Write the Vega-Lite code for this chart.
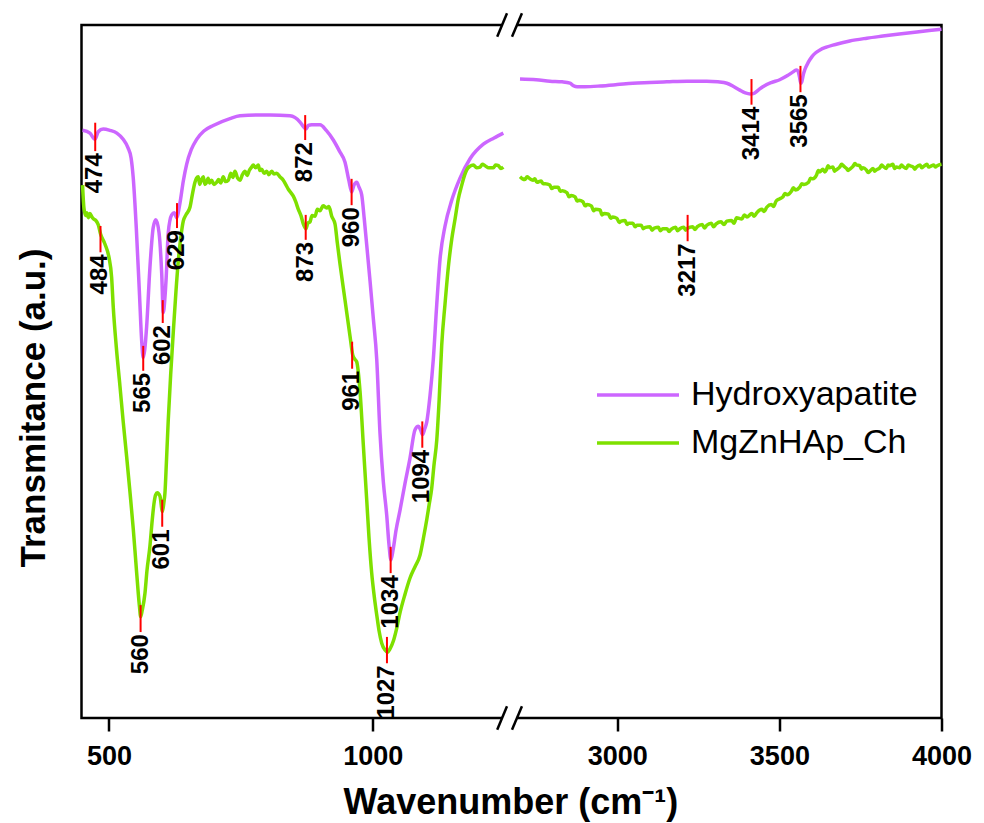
{
  "$schema": "https://vega.github.io/schema/vega-lite/v6.json",
  "width": 860,
  "height": 693,
  "autosize": {"type": "none"},
  "padding": {"left": 81.5, "top": 25, "right": 42.5, "bottom": 105},
  "background": "white",
  "config": {"view": {"stroke": "black", "strokeWidth": 2.5}, "font": "Liberation Sans"},
  "datasets": {
    "spec": [
      {"s":"Hydroxyapatite","p":"L","w":450,"t":84.8},{"s":"Hydroxyapatite","p":"L","w":464,"t":84.4},{"s":"Hydroxyapatite","p":"L","w":473.5,"t":83.5},{"s":"Hydroxyapatite","p":"L","w":479.7,"t":84.6},{"s":"Hydroxyapatite","p":"L","w":489,"t":85.0},{"s":"Hydroxyapatite","p":"L","w":502,"t":84.8},{"s":"Hydroxyapatite","p":"L","w":515,"t":84.4},{"s":"Hydroxyapatite","p":"L","w":527,"t":83.5},{"s":"Hydroxyapatite","p":"L","w":536,"t":82.3},{"s":"Hydroxyapatite","p":"L","w":542,"t":80.8},{"s":"Hydroxyapatite","p":"L","w":546,"t":78.0},{"s":"Hydroxyapatite","p":"L","w":552,"t":70.5},{"s":"Hydroxyapatite","p":"L","w":558,"t":61},{"s":"Hydroxyapatite","p":"L","w":562,"t":54.5},{"s":"Hydroxyapatite","p":"L","w":565,"t":52.0},{"s":"Hydroxyapatite","p":"L","w":568,"t":53.2},{"s":"Hydroxyapatite","p":"L","w":571.5,"t":56.5},{"s":"Hydroxyapatite","p":"L","w":577.7,"t":65},{"s":"Hydroxyapatite","p":"L","w":584,"t":70.8},{"s":"Hydroxyapatite","p":"L","w":589,"t":71.9},{"s":"Hydroxyapatite","p":"L","w":595,"t":70.0},{"s":"Hydroxyapatite","p":"L","w":600,"t":64.2},{"s":"Hydroxyapatite","p":"L","w":603,"t":58.5},{"s":"Hydroxyapatite","p":"L","w":606,"t":60.5},{"s":"Hydroxyapatite","p":"L","w":608.5,"t":63.5},{"s":"Hydroxyapatite","p":"L","w":612.4,"t":70},{"s":"Hydroxyapatite","p":"L","w":618.9,"t":72.6},{"s":"Hydroxyapatite","p":"L","w":623.8,"t":72.9},{"s":"Hydroxyapatite","p":"L","w":628.4,"t":72.2},{"s":"Hydroxyapatite","p":"L","w":634.6,"t":74.3},{"s":"Hydroxyapatite","p":"L","w":641,"t":77.5},{"s":"Hydroxyapatite","p":"L","w":647.3,"t":79.9},{"s":"Hydroxyapatite","p":"L","w":656,"t":82},{"s":"Hydroxyapatite","p":"L","w":666.3,"t":83.5},{"s":"Hydroxyapatite","p":"L","w":680,"t":84.7},{"s":"Hydroxyapatite","p":"L","w":697.8,"t":85.5},{"s":"Hydroxyapatite","p":"L","w":729.4,"t":86.5},{"s":"Hydroxyapatite","p":"L","w":748.4,"t":86.9},{"s":"Hydroxyapatite","p":"L","w":780,"t":87.0},{"s":"Hydroxyapatite","p":"L","w":805.3,"t":87.0},{"s":"Hydroxyapatite","p":"L","w":843.2,"t":86.9},{"s":"Hydroxyapatite","p":"L","w":862.2,"t":86.0},{"s":"Hydroxyapatite","p":"L","w":869,"t":85.3},{"s":"Hydroxyapatite","p":"L","w":873.5,"t":85.0},{"s":"Hydroxyapatite","p":"L","w":878,"t":85.5},{"s":"Hydroxyapatite","p":"L","w":884.3,"t":85.6},{"s":"Hydroxyapatite","p":"L","w":900.1,"t":85.6},{"s":"Hydroxyapatite","p":"L","w":912,"t":84.8},{"s":"Hydroxyapatite","p":"L","w":925.3,"t":83.4},{"s":"Hydroxyapatite","p":"L","w":937,"t":81.8},{"s":"Hydroxyapatite","p":"L","w":947.5,"t":80.2},{"s":"Hydroxyapatite","p":"L","w":955,"t":77.5},{"s":"Hydroxyapatite","p":"L","w":960.2,"t":75.9},{"s":"Hydroxyapatite","p":"L","w":964,"t":76.8},{"s":"Hydroxyapatite","p":"L","w":969.7,"t":77.3},{"s":"Hydroxyapatite","p":"L","w":974,"t":76.6},{"s":"Hydroxyapatite","p":"L","w":979.1,"t":75.5},{"s":"Hydroxyapatite","p":"L","w":984,"t":72},{"s":"Hydroxyapatite","p":"L","w":988.6,"t":68.3},{"s":"Hydroxyapatite","p":"L","w":995,"t":63},{"s":"Hydroxyapatite","p":"L","w":1001.1,"t":57.7},{"s":"Hydroxyapatite","p":"L","w":1007.6,"t":51.8},{"s":"Hydroxyapatite","p":"L","w":1013.8,"t":41.1},{"s":"Hydroxyapatite","p":"L","w":1020.1,"t":34.1},{"s":"Hydroxyapatite","p":"L","w":1026.5,"t":29.3},{"s":"Hydroxyapatite","p":"L","w":1030.9,"t":25.0},{"s":"Hydroxyapatite","p":"L","w":1034.5,"t":22.8},{"s":"Hydroxyapatite","p":"L","w":1038.5,"t":24.2},{"s":"Hydroxyapatite","p":"L","w":1044.2,"t":27.1},{"s":"Hydroxyapatite","p":"L","w":1051.8,"t":30.0},{"s":"Hydroxyapatite","p":"L","w":1061.3,"t":33.9},{"s":"Hydroxyapatite","p":"L","w":1070.7,"t":37.5},{"s":"Hydroxyapatite","p":"L","w":1080.2,"t":41.6},{"s":"Hydroxyapatite","p":"L","w":1086.5,"t":42.1},{"s":"Hydroxyapatite","p":"L","w":1090.6,"t":41.6},{"s":"Hydroxyapatite","p":"L","w":1094.5,"t":40.9},{"s":"Hydroxyapatite","p":"L","w":1098.5,"t":41.7},{"s":"Hydroxyapatite","p":"L","w":1102.4,"t":42.7},{"s":"Hydroxyapatite","p":"L","w":1108.6,"t":46.5},{"s":"Hydroxyapatite","p":"L","w":1114.9,"t":51.8},{"s":"Hydroxyapatite","p":"L","w":1121.4,"t":59.7},{"s":"Hydroxyapatite","p":"L","w":1127.6,"t":66.2},{"s":"Hydroxyapatite","p":"L","w":1137.1,"t":71.0},{"s":"Hydroxyapatite","p":"L","w":1149.8,"t":74.7},{"s":"Hydroxyapatite","p":"L","w":1165.5,"t":77.9},{"s":"Hydroxyapatite","p":"L","w":1184.5,"t":80.7},{"s":"Hydroxyapatite","p":"L","w":1209.7,"t":82.8},{"s":"Hydroxyapatite","p":"L","w":1230,"t":83.7},{"s":"Hydroxyapatite","p":"L","w":1247.6,"t":84.4},
      {"s":"Hydroxyapatite","p":"R","w":2700,"t":92.2},{"s":"Hydroxyapatite","p":"R","w":2750,"t":92.1},{"s":"Hydroxyapatite","p":"R","w":2792.6,"t":91.9},{"s":"Hydroxyapatite","p":"R","w":2830,"t":91.8},{"s":"Hydroxyapatite","p":"R","w":2854,"t":91.6},{"s":"Hydroxyapatite","p":"R","w":2866,"t":91.2},{"s":"Hydroxyapatite","p":"R","w":2876,"t":91.1},{"s":"Hydroxyapatite","p":"R","w":2900,"t":91.1},{"s":"Hydroxyapatite","p":"R","w":2947,"t":91.2},{"s":"Hydroxyapatite","p":"R","w":3000,"t":91.4},{"s":"Hydroxyapatite","p":"R","w":3048,"t":91.6},{"s":"Hydroxyapatite","p":"R","w":3100,"t":91.7},{"s":"Hydroxyapatite","p":"R","w":3153,"t":91.8},{"s":"Hydroxyapatite","p":"R","w":3215,"t":91.9},{"s":"Hydroxyapatite","p":"R","w":3276,"t":91.9},{"s":"Hydroxyapatite","p":"R","w":3310,"t":91.8},{"s":"Hydroxyapatite","p":"R","w":3338,"t":91.6},{"s":"Hydroxyapatite","p":"R","w":3360,"t":91.1},{"s":"Hydroxyapatite","p":"R","w":3378,"t":90.6},{"s":"Hydroxyapatite","p":"R","w":3395,"t":90.2},{"s":"Hydroxyapatite","p":"R","w":3410,"t":90.05},{"s":"Hydroxyapatite","p":"R","w":3420,"t":90.1},{"s":"Hydroxyapatite","p":"R","w":3435,"t":90.6},{"s":"Hydroxyapatite","p":"R","w":3449,"t":91.1},{"s":"Hydroxyapatite","p":"R","w":3475,"t":91.7},{"s":"Hydroxyapatite","p":"R","w":3501,"t":92.1},{"s":"Hydroxyapatite","p":"R","w":3525,"t":92.7},{"s":"Hydroxyapatite","p":"R","w":3541,"t":93.2},{"s":"Hydroxyapatite","p":"R","w":3552,"t":93.5},{"s":"Hydroxyapatite","p":"R","w":3557,"t":93.4},{"s":"Hydroxyapatite","p":"R","w":3562,"t":92.5},{"s":"Hydroxyapatite","p":"R","w":3566,"t":91.6},{"s":"Hydroxyapatite","p":"R","w":3569,"t":91.8},{"s":"Hydroxyapatite","p":"R","w":3574,"t":92.9},{"s":"Hydroxyapatite","p":"R","w":3578,"t":93.5},{"s":"Hydroxyapatite","p":"R","w":3589,"t":94.6},{"s":"Hydroxyapatite","p":"R","w":3600,"t":95.4},{"s":"Hydroxyapatite","p":"R","w":3612,"t":96.0},{"s":"Hydroxyapatite","p":"R","w":3625,"t":96.4},{"s":"Hydroxyapatite","p":"R","w":3645,"t":96.8},{"s":"Hydroxyapatite","p":"R","w":3665,"t":97.1},{"s":"Hydroxyapatite","p":"R","w":3690,"t":97.4},{"s":"Hydroxyapatite","p":"R","w":3717,"t":97.7},{"s":"Hydroxyapatite","p":"R","w":3770,"t":98.1},{"s":"Hydroxyapatite","p":"R","w":3819,"t":98.4},{"s":"Hydroxyapatite","p":"R","w":3870,"t":98.7},{"s":"Hydroxyapatite","p":"R","w":3924,"t":99.0},{"s":"Hydroxyapatite","p":"R","w":3962,"t":99.2},{"s":"Hydroxyapatite","p":"R","w":4000,"t":99.4},
      {"s":"MgZnHAp_Ch","p":"L","w":450,"t":76.9},{"s":"MgZnHAp_Ch","p":"L","w":452.6,"t":73.6},{"s":"MgZnHAp_Ch","p":"L","w":456,"t":72.5},{"s":"MgZnHAp_Ch","p":"L","w":458,"t":72.9},{"s":"MgZnHAp_Ch","p":"L","w":461,"t":72.2},{"s":"MgZnHAp_Ch","p":"L","w":464,"t":72.8},{"s":"MgZnHAp_Ch","p":"L","w":467.8,"t":72.3},{"s":"MgZnHAp_Ch","p":"L","w":471,"t":72.0},{"s":"MgZnHAp_Ch","p":"L","w":475,"t":71.8},{"s":"MgZnHAp_Ch","p":"L","w":479.7,"t":71.2},{"s":"MgZnHAp_Ch","p":"L","w":484.3,"t":69.8},{"s":"MgZnHAp_Ch","p":"L","w":492.4,"t":68.4},{"s":"MgZnHAp_Ch","p":"L","w":500,"t":66.5},{"s":"MgZnHAp_Ch","p":"L","w":505.1,"t":63.6},{"s":"MgZnHAp_Ch","p":"L","w":508.2,"t":59.3},{"s":"MgZnHAp_Ch","p":"L","w":514,"t":53.5},{"s":"MgZnHAp_Ch","p":"L","w":520.9,"t":47.9},{"s":"MgZnHAp_Ch","p":"L","w":527,"t":42.8},{"s":"MgZnHAp_Ch","p":"L","w":533.6,"t":37.7},{"s":"MgZnHAp_Ch","p":"L","w":540,"t":32.5},{"s":"MgZnHAp_Ch","p":"L","w":546.1,"t":27.3},{"s":"MgZnHAp_Ch","p":"L","w":551,"t":22.5},{"s":"MgZnHAp_Ch","p":"L","w":555.6,"t":18.0},{"s":"MgZnHAp_Ch","p":"L","w":558,"t":16.0},{"s":"MgZnHAp_Ch","p":"L","w":560.1,"t":14.6},{"s":"MgZnHAp_Ch","p":"L","w":563,"t":15.5},{"s":"MgZnHAp_Ch","p":"L","w":568.3,"t":18.0},{"s":"MgZnHAp_Ch","p":"L","w":572,"t":21.2},{"s":"MgZnHAp_Ch","p":"L","w":577.7,"t":24.8},{"s":"MgZnHAp_Ch","p":"L","w":582,"t":28.5},{"s":"MgZnHAp_Ch","p":"L","w":585.3,"t":30.9},{"s":"MgZnHAp_Ch","p":"L","w":588.5,"t":32.2},{"s":"MgZnHAp_Ch","p":"L","w":591.6,"t":32.5},{"s":"MgZnHAp_Ch","p":"L","w":596.7,"t":32.0},{"s":"MgZnHAp_Ch","p":"L","w":601.4,"t":29.8},{"s":"MgZnHAp_Ch","p":"L","w":604,"t":31.0},{"s":"MgZnHAp_Ch","p":"L","w":606.2,"t":32.5},{"s":"MgZnHAp_Ch","p":"L","w":609,"t":37},{"s":"MgZnHAp_Ch","p":"L","w":612.4,"t":42.9},{"s":"MgZnHAp_Ch","p":"L","w":617,"t":49.5},{"s":"MgZnHAp_Ch","p":"L","w":622,"t":55.7},{"s":"MgZnHAp_Ch","p":"L","w":627,"t":61.5},{"s":"MgZnHAp_Ch","p":"L","w":631.4,"t":65.9},{"s":"MgZnHAp_Ch","p":"L","w":636,"t":69.2},{"s":"MgZnHAp_Ch","p":"L","w":640.9,"t":71.7},{"s":"MgZnHAp_Ch","p":"L","w":646,"t":72.6},{"s":"MgZnHAp_Ch","p":"L","w":653.6,"t":73.7},{"s":"MgZnHAp_Ch","p":"L","w":658,"t":75.5},{"s":"MgZnHAp_Ch","p":"L","w":663.1,"t":77.3},{"s":"MgZnHAp_Ch","p":"L","w":666,"t":77.9},{"s":"MgZnHAp_Ch","p":"L","w":669.3,"t":78.1},{"s":"MgZnHAp_Ch","p":"L","w":672,"t":77.0},{"s":"MgZnHAp_Ch","p":"L","w":675,"t":77.6},{"s":"MgZnHAp_Ch","p":"L","w":678.8,"t":78.1},{"s":"MgZnHAp_Ch","p":"L","w":682,"t":77.0},{"s":"MgZnHAp_Ch","p":"L","w":685.3,"t":77.3},{"s":"MgZnHAp_Ch","p":"L","w":688,"t":77.9},{"s":"MgZnHAp_Ch","p":"L","w":691,"t":77.2},{"s":"MgZnHAp_Ch","p":"L","w":694.7,"t":77.6},{"s":"MgZnHAp_Ch","p":"L","w":699,"t":77.0},{"s":"MgZnHAp_Ch","p":"L","w":704.2,"t":77.3},{"s":"MgZnHAp_Ch","p":"L","w":708,"t":77.7},{"s":"MgZnHAp_Ch","p":"L","w":712,"t":77.2},{"s":"MgZnHAp_Ch","p":"L","w":716.7,"t":78.1},{"s":"MgZnHAp_Ch","p":"L","w":721,"t":77.4},{"s":"MgZnHAp_Ch","p":"L","w":726.2,"t":77.6},{"s":"MgZnHAp_Ch","p":"L","w":731,"t":78.6},{"s":"MgZnHAp_Ch","p":"L","w":735,"t":78.0},{"s":"MgZnHAp_Ch","p":"L","w":738.9,"t":78.9},{"s":"MgZnHAp_Ch","p":"L","w":744,"t":77.9},{"s":"MgZnHAp_Ch","p":"L","w":748.4,"t":77.6},{"s":"MgZnHAp_Ch","p":"L","w":753,"t":78.4},{"s":"MgZnHAp_Ch","p":"L","w":757.9,"t":78.9},{"s":"MgZnHAp_Ch","p":"L","w":762,"t":78.3},{"s":"MgZnHAp_Ch","p":"L","w":766,"t":79.0},{"s":"MgZnHAp_Ch","p":"L","w":770.6,"t":79.5},{"s":"MgZnHAp_Ch","p":"L","w":773.6,"t":79.8},{"s":"MgZnHAp_Ch","p":"L","w":778,"t":79.4},{"s":"MgZnHAp_Ch","p":"L","w":783.1,"t":79.8},{"s":"MgZnHAp_Ch","p":"L","w":786,"t":79.0},{"s":"MgZnHAp_Ch","p":"L","w":789.5,"t":79.2},{"s":"MgZnHAp_Ch","p":"L","w":794,"t":78.6},{"s":"MgZnHAp_Ch","p":"L","w":799,"t":78.9},{"s":"MgZnHAp_Ch","p":"L","w":803,"t":78.4},{"s":"MgZnHAp_Ch","p":"L","w":808.5,"t":78.9},{"s":"MgZnHAp_Ch","p":"L","w":813,"t":78.5},{"s":"MgZnHAp_Ch","p":"L","w":818,"t":78.6},{"s":"MgZnHAp_Ch","p":"L","w":824,"t":78.1},{"s":"MgZnHAp_Ch","p":"L","w":830.5,"t":77.6},{"s":"MgZnHAp_Ch","p":"L","w":835,"t":77.0},{"s":"MgZnHAp_Ch","p":"L","w":840,"t":76.3},{"s":"MgZnHAp_Ch","p":"L","w":845,"t":75.8},{"s":"MgZnHAp_Ch","p":"L","w":849.5,"t":75.3},{"s":"MgZnHAp_Ch","p":"L","w":854,"t":74.5},{"s":"MgZnHAp_Ch","p":"L","w":859,"t":73.4},{"s":"MgZnHAp_Ch","p":"L","w":864,"t":72.5},{"s":"MgZnHAp_Ch","p":"L","w":868.4,"t":71.3},{"s":"MgZnHAp_Ch","p":"L","w":873.5,"t":70.6},{"s":"MgZnHAp_Ch","p":"L","w":877,"t":71.4},{"s":"MgZnHAp_Ch","p":"L","w":881.1,"t":71.6},{"s":"MgZnHAp_Ch","p":"L","w":885,"t":72.5},{"s":"MgZnHAp_Ch","p":"L","w":890.6,"t":72.4},{"s":"MgZnHAp_Ch","p":"L","w":895,"t":73.4},{"s":"MgZnHAp_Ch","p":"L","w":900.1,"t":73.2},{"s":"MgZnHAp_Ch","p":"L","w":906,"t":73.9},{"s":"MgZnHAp_Ch","p":"L","w":912.8,"t":73.6},{"s":"MgZnHAp_Ch","p":"L","w":917,"t":73.8},{"s":"MgZnHAp_Ch","p":"L","w":922.3,"t":72.4},{"s":"MgZnHAp_Ch","p":"L","w":928.5,"t":71.3},{"s":"MgZnHAp_Ch","p":"L","w":933,"t":68.5},{"s":"MgZnHAp_Ch","p":"L","w":938,"t":65.5},{"s":"MgZnHAp_Ch","p":"L","w":947.5,"t":60.3},{"s":"MgZnHAp_Ch","p":"L","w":957,"t":55.1},{"s":"MgZnHAp_Ch","p":"L","w":962.1,"t":52.4},{"s":"MgZnHAp_Ch","p":"L","w":966,"t":51.8},{"s":"MgZnHAp_Ch","p":"L","w":969.7,"t":51.4},{"s":"MgZnHAp_Ch","p":"L","w":975.9,"t":47.2},{"s":"MgZnHAp_Ch","p":"L","w":982.2,"t":39.4},{"s":"MgZnHAp_Ch","p":"L","w":988.6,"t":31.5},{"s":"MgZnHAp_Ch","p":"L","w":993,"t":26},{"s":"MgZnHAp_Ch","p":"L","w":998.1,"t":20.9},{"s":"MgZnHAp_Ch","p":"L","w":1003,"t":17.5},{"s":"MgZnHAp_Ch","p":"L","w":1007.6,"t":14.9},{"s":"MgZnHAp_Ch","p":"L","w":1012,"t":12.6},{"s":"MgZnHAp_Ch","p":"L","w":1017.1,"t":10.8},{"s":"MgZnHAp_Ch","p":"L","w":1023.3,"t":9.8},{"s":"MgZnHAp_Ch","p":"L","w":1028,"t":9.5},{"s":"MgZnHAp_Ch","p":"L","w":1033,"t":10.0},{"s":"MgZnHAp_Ch","p":"L","w":1039.1,"t":11.1},{"s":"MgZnHAp_Ch","p":"L","w":1045,"t":12.8},{"s":"MgZnHAp_Ch","p":"L","w":1051.8,"t":15.2},{"s":"MgZnHAp_Ch","p":"L","w":1061,"t":17.8},{"s":"MgZnHAp_Ch","p":"L","w":1070.7,"t":20.2},{"s":"MgZnHAp_Ch","p":"L","w":1080,"t":21.8},{"s":"MgZnHAp_Ch","p":"L","w":1089.7,"t":23.5},{"s":"MgZnHAp_Ch","p":"L","w":1096,"t":25.9},{"s":"MgZnHAp_Ch","p":"L","w":1102.4,"t":28.6},{"s":"MgZnHAp_Ch","p":"L","w":1107,"t":30.8},{"s":"MgZnHAp_Ch","p":"L","w":1111.9,"t":33.2},{"s":"MgZnHAp_Ch","p":"L","w":1116,"t":36.4},{"s":"MgZnHAp_Ch","p":"L","w":1121.4,"t":40.1},{"s":"MgZnHAp_Ch","p":"L","w":1126,"t":46},{"s":"MgZnHAp_Ch","p":"L","w":1130.8,"t":53.8},{"s":"MgZnHAp_Ch","p":"L","w":1137,"t":59.7},{"s":"MgZnHAp_Ch","p":"L","w":1143.4,"t":65.1},{"s":"MgZnHAp_Ch","p":"L","w":1150,"t":69.2},{"s":"MgZnHAp_Ch","p":"L","w":1156.1,"t":72.0},{"s":"MgZnHAp_Ch","p":"L","w":1162,"t":74.8},{"s":"MgZnHAp_Ch","p":"L","w":1168.8,"t":76.9},{"s":"MgZnHAp_Ch","p":"L","w":1174,"t":78.3},{"s":"MgZnHAp_Ch","p":"L","w":1178.2,"t":79.1},{"s":"MgZnHAp_Ch","p":"L","w":1184,"t":79.6},{"s":"MgZnHAp_Ch","p":"L","w":1190.8,"t":79.8},{"s":"MgZnHAp_Ch","p":"L","w":1197,"t":79.4},{"s":"MgZnHAp_Ch","p":"L","w":1203.5,"t":79.5},{"s":"MgZnHAp_Ch","p":"L","w":1208,"t":79.9},{"s":"MgZnHAp_Ch","p":"L","w":1213,"t":79.7},{"s":"MgZnHAp_Ch","p":"L","w":1220,"t":79.4},{"s":"MgZnHAp_Ch","p":"L","w":1228.7,"t":79.4},{"s":"MgZnHAp_Ch","p":"L","w":1233,"t":79.8},{"s":"MgZnHAp_Ch","p":"L","w":1238.2,"t":79.7},{"s":"MgZnHAp_Ch","p":"L","w":1243,"t":79.3},{"s":"MgZnHAp_Ch","p":"L","w":1247.6,"t":79.5},
      {"s":"MgZnHAp_Ch","p":"R","w":2700,"t":78.1},{"s":"MgZnHAp_Ch","p":"R","w":2708,"t":77.8},{"s":"MgZnHAp_Ch","p":"R","w":2715,"t":77.7},{"s":"MgZnHAp_Ch","p":"R","w":2722,"t":78.1},{"s":"MgZnHAp_Ch","p":"R","w":2728,"t":77.9},{"s":"MgZnHAp_Ch","p":"R","w":2740,"t":77.6},{"s":"MgZnHAp_Ch","p":"R","w":2746,"t":77.8},{"s":"MgZnHAp_Ch","p":"R","w":2752,"t":77.3},{"s":"MgZnHAp_Ch","p":"R","w":2765,"t":77.5},{"s":"MgZnHAp_Ch","p":"R","w":2771,"t":77.1},{"s":"MgZnHAp_Ch","p":"R","w":2778,"t":77.1},{"s":"MgZnHAp_Ch","p":"R","w":2792,"t":76.9},{"s":"MgZnHAp_Ch","p":"R","w":2798,"t":76.4},{"s":"MgZnHAp_Ch","p":"R","w":2805,"t":76.6},{"s":"MgZnHAp_Ch","p":"R","w":2818,"t":76.6},{"s":"MgZnHAp_Ch","p":"R","w":2824,"t":76.0},{"s":"MgZnHAp_Ch","p":"R","w":2831,"t":76.1},{"s":"MgZnHAp_Ch","p":"R","w":2845,"t":75.8},{"s":"MgZnHAp_Ch","p":"R","w":2851,"t":75.2},{"s":"MgZnHAp_Ch","p":"R","w":2858,"t":75.4},{"s":"MgZnHAp_Ch","p":"R","w":2870,"t":75.2},{"s":"MgZnHAp_Ch","p":"R","w":2876,"t":74.6},{"s":"MgZnHAp_Ch","p":"R","w":2882,"t":74.7},{"s":"MgZnHAp_Ch","p":"R","w":2894,"t":74.5},{"s":"MgZnHAp_Ch","p":"R","w":2901,"t":73.9},{"s":"MgZnHAp_Ch","p":"R","w":2907,"t":74.1},{"s":"MgZnHAp_Ch","p":"R","w":2920,"t":73.9},{"s":"MgZnHAp_Ch","p":"R","w":2927,"t":73.2},{"s":"MgZnHAp_Ch","p":"R","w":2933,"t":73.4},{"s":"MgZnHAp_Ch","p":"R","w":2947,"t":73.3},{"s":"MgZnHAp_Ch","p":"R","w":2953,"t":72.6},{"s":"MgZnHAp_Ch","p":"R","w":2960,"t":72.8},{"s":"MgZnHAp_Ch","p":"R","w":2973,"t":72.7},{"s":"MgZnHAp_Ch","p":"R","w":2980,"t":72.1},{"s":"MgZnHAp_Ch","p":"R","w":2986,"t":72.3},{"s":"MgZnHAp_Ch","p":"R","w":2999,"t":72.1},{"s":"MgZnHAp_Ch","p":"R","w":3006,"t":71.5},{"s":"MgZnHAp_Ch","p":"R","w":3012,"t":71.7},{"s":"MgZnHAp_Ch","p":"R","w":3024,"t":71.8},{"s":"MgZnHAp_Ch","p":"R","w":3030,"t":71.2},{"s":"MgZnHAp_Ch","p":"R","w":3036,"t":71.4},{"s":"MgZnHAp_Ch","p":"R","w":3048,"t":71.4},{"s":"MgZnHAp_Ch","p":"R","w":3055,"t":70.9},{"s":"MgZnHAp_Ch","p":"R","w":3061,"t":71.1},{"s":"MgZnHAp_Ch","p":"R","w":3074,"t":71.1},{"s":"MgZnHAp_Ch","p":"R","w":3080,"t":70.6},{"s":"MgZnHAp_Ch","p":"R","w":3087,"t":70.8},{"s":"MgZnHAp_Ch","p":"R","w":3101,"t":70.9},{"s":"MgZnHAp_Ch","p":"R","w":3107,"t":70.4},{"s":"MgZnHAp_Ch","p":"R","w":3114,"t":70.7},{"s":"MgZnHAp_Ch","p":"R","w":3127,"t":70.8},{"s":"MgZnHAp_Ch","p":"R","w":3133,"t":70.3},{"s":"MgZnHAp_Ch","p":"R","w":3140,"t":70.6},{"s":"MgZnHAp_Ch","p":"R","w":3153,"t":70.6},{"s":"MgZnHAp_Ch","p":"R","w":3160,"t":70.2},{"s":"MgZnHAp_Ch","p":"R","w":3166,"t":70.5},{"s":"MgZnHAp_Ch","p":"R","w":3180,"t":70.8},{"s":"MgZnHAp_Ch","p":"R","w":3186,"t":70.3},{"s":"MgZnHAp_Ch","p":"R","w":3193,"t":70.6},{"s":"MgZnHAp_Ch","p":"R","w":3205,"t":70.8},{"s":"MgZnHAp_Ch","p":"R","w":3211,"t":70.4},{"s":"MgZnHAp_Ch","p":"R","w":3218,"t":70.7},{"s":"MgZnHAp_Ch","p":"R","w":3232,"t":70.9},{"s":"MgZnHAp_Ch","p":"R","w":3240,"t":70.5},{"s":"MgZnHAp_Ch","p":"R","w":3247,"t":70.9},{"s":"MgZnHAp_Ch","p":"R","w":3262,"t":71.2},{"s":"MgZnHAp_Ch","p":"R","w":3269,"t":70.7},{"s":"MgZnHAp_Ch","p":"R","w":3276,"t":71.1},{"s":"MgZnHAp_Ch","p":"R","w":3290,"t":71.4},{"s":"MgZnHAp_Ch","p":"R","w":3297,"t":70.9},{"s":"MgZnHAp_Ch","p":"R","w":3305,"t":71.3},{"s":"MgZnHAp_Ch","p":"R","w":3320,"t":71.6},{"s":"MgZnHAp_Ch","p":"R","w":3329,"t":71.2},{"s":"MgZnHAp_Ch","p":"R","w":3338,"t":71.7},{"s":"MgZnHAp_Ch","p":"R","w":3352,"t":71.8},{"s":"MgZnHAp_Ch","p":"R","w":3360,"t":71.4},{"s":"MgZnHAp_Ch","p":"R","w":3368,"t":72.2},{"s":"MgZnHAp_Ch","p":"R","w":3384,"t":72.0},{"s":"MgZnHAp_Ch","p":"R","w":3392,"t":72.6},{"s":"MgZnHAp_Ch","p":"R","w":3400,"t":72.3},{"s":"MgZnHAp_Ch","p":"R","w":3415,"t":72.8},{"s":"MgZnHAp_Ch","p":"R","w":3422,"t":72.4},{"s":"MgZnHAp_Ch","p":"R","w":3430,"t":72.9},{"s":"MgZnHAp_Ch","p":"R","w":3446,"t":73.4},{"s":"MgZnHAp_Ch","p":"R","w":3453,"t":73.1},{"s":"MgZnHAp_Ch","p":"R","w":3461,"t":73.7},{"s":"MgZnHAp_Ch","p":"R","w":3475,"t":74.1},{"s":"MgZnHAp_Ch","p":"R","w":3482,"t":73.8},{"s":"MgZnHAp_Ch","p":"R","w":3490,"t":74.6},{"s":"MgZnHAp_Ch","p":"R","w":3500,"t":74.9},{"s":"MgZnHAp_Ch","p":"R","w":3511,"t":75.2},{"s":"MgZnHAp_Ch","p":"R","w":3517,"t":75.7},{"s":"MgZnHAp_Ch","p":"R","w":3524,"t":75.5},{"s":"MgZnHAp_Ch","p":"R","w":3537,"t":76.0},{"s":"MgZnHAp_Ch","p":"R","w":3543,"t":76.5},{"s":"MgZnHAp_Ch","p":"R","w":3550,"t":76.2},{"s":"MgZnHAp_Ch","p":"R","w":3563,"t":76.6},{"s":"MgZnHAp_Ch","p":"R","w":3569,"t":77.1},{"s":"MgZnHAp_Ch","p":"R","w":3576,"t":77.0},{"s":"MgZnHAp_Ch","p":"R","w":3590,"t":77.3},{"s":"MgZnHAp_Ch","p":"R","w":3596,"t":77.9},{"s":"MgZnHAp_Ch","p":"R","w":3603,"t":77.8},{"s":"MgZnHAp_Ch","p":"R","w":3615,"t":78.4},{"s":"MgZnHAp_Ch","p":"R","w":3620,"t":79.0},{"s":"MgZnHAp_Ch","p":"R","w":3625,"t":78.8},{"s":"MgZnHAp_Ch","p":"R","w":3634,"t":79.2},{"s":"MgZnHAp_Ch","p":"R","w":3640,"t":78.8},{"s":"MgZnHAp_Ch","p":"R","w":3645,"t":79.1},{"s":"MgZnHAp_Ch","p":"R","w":3650,"t":79.7},{"s":"MgZnHAp_Ch","p":"R","w":3655,"t":79.4},{"s":"MgZnHAp_Ch","p":"R","w":3665,"t":79.5},{"s":"MgZnHAp_Ch","p":"R","w":3670,"t":78.9},{"s":"MgZnHAp_Ch","p":"R","w":3675,"t":79.1},{"s":"MgZnHAp_Ch","p":"R","w":3686,"t":79.5},{"s":"MgZnHAp_Ch","p":"R","w":3692,"t":79.9},{"s":"MgZnHAp_Ch","p":"R","w":3697,"t":79.7},{"s":"MgZnHAp_Ch","p":"R","w":3707,"t":79.3},{"s":"MgZnHAp_Ch","p":"R","w":3712,"t":79.0},{"s":"MgZnHAp_Ch","p":"R","w":3717,"t":79.2},{"s":"MgZnHAp_Ch","p":"R","w":3727,"t":79.6},{"s":"MgZnHAp_Ch","p":"R","w":3733,"t":80.0},{"s":"MgZnHAp_Ch","p":"R","w":3738,"t":79.8},{"s":"MgZnHAp_Ch","p":"R","w":3748,"t":79.7},{"s":"MgZnHAp_Ch","p":"R","w":3753,"t":79.2},{"s":"MgZnHAp_Ch","p":"R","w":3758,"t":79.4},{"s":"MgZnHAp_Ch","p":"R","w":3768,"t":79.1},{"s":"MgZnHAp_Ch","p":"R","w":3774,"t":78.7},{"s":"MgZnHAp_Ch","p":"R","w":3779,"t":78.9},{"s":"MgZnHAp_Ch","p":"R","w":3789,"t":79.3},{"s":"MgZnHAp_Ch","p":"R","w":3794,"t":78.9},{"s":"MgZnHAp_Ch","p":"R","w":3799,"t":79.1},{"s":"MgZnHAp_Ch","p":"R","w":3810,"t":79.4},{"s":"MgZnHAp_Ch","p":"R","w":3815,"t":79.8},{"s":"MgZnHAp_Ch","p":"R","w":3820,"t":79.6},{"s":"MgZnHAp_Ch","p":"R","w":3830,"t":79.3},{"s":"MgZnHAp_Ch","p":"R","w":3835,"t":79.8},{"s":"MgZnHAp_Ch","p":"R","w":3840,"t":79.7},{"s":"MgZnHAp_Ch","p":"R","w":3850,"t":79.9},{"s":"MgZnHAp_Ch","p":"R","w":3855,"t":79.3},{"s":"MgZnHAp_Ch","p":"R","w":3861,"t":79.5},{"s":"MgZnHAp_Ch","p":"R","w":3871,"t":79.4},{"s":"MgZnHAp_Ch","p":"R","w":3876,"t":79.8},{"s":"MgZnHAp_Ch","p":"R","w":3881,"t":79.6},{"s":"MgZnHAp_Ch","p":"R","w":3892,"t":79.3},{"s":"MgZnHAp_Ch","p":"R","w":3897,"t":79.8},{"s":"MgZnHAp_Ch","p":"R","w":3902,"t":79.7},{"s":"MgZnHAp_Ch","p":"R","w":3913,"t":79.5},{"s":"MgZnHAp_Ch","p":"R","w":3918,"t":79.2},{"s":"MgZnHAp_Ch","p":"R","w":3923,"t":79.5},{"s":"MgZnHAp_Ch","p":"R","w":3934,"t":79.8},{"s":"MgZnHAp_Ch","p":"R","w":3939,"t":79.4},{"s":"MgZnHAp_Ch","p":"R","w":3945,"t":79.6},{"s":"MgZnHAp_Ch","p":"R","w":3955,"t":79.9},{"s":"MgZnHAp_Ch","p":"R","w":3960,"t":79.5},{"s":"MgZnHAp_Ch","p":"R","w":3966,"t":79.6},{"s":"MgZnHAp_Ch","p":"R","w":3976,"t":79.8},{"s":"MgZnHAp_Ch","p":"R","w":3981,"t":79.5},{"s":"MgZnHAp_Ch","p":"R","w":3987,"t":79.7},{"s":"MgZnHAp_Ch","p":"R","w":4000,"t":79.9}
    ],
    "peaks": [
      {"w":474,"y1":85.9,"y2":81.8,"ly":81.5,"lab":"474"},
      {"w":565,"y1":53.7,"y2":50.1,"ly":49.8,"lab":"565"},
      {"w":602,"y1":60.3,"y2":57.0,"ly":56.7,"lab":"602"},
      {"w":629,"y1":74.3,"y2":70.7,"ly":70.4,"lab":"629"},
      {"w":872,"y1":87.0,"y2":83.4,"ly":83.1,"lab":"872"},
      {"w":960,"y1":77.8,"y2":74.0,"ly":73.7,"lab":"960"},
      {"w":1034,"y1":24.7,"y2":20.9,"ly":20.6,"lab":"1034"},
      {"w":1094,"y1":42.8,"y2":39.0,"ly":38.7,"lab":"1094"},
      {"w":3414,"y1":92.2,"y2":88.5,"ly":88.2,"lab":"3414"},
      {"w":3565,"y1":94.1,"y2":90.3,"ly":90.0,"lab":"3565"},
      {"w":484,"y1":71.0,"y2":67.2,"ly":66.9,"lab":"484"},
      {"w":560,"y1":16.3,"y2":12.4,"ly":12.1,"lab":"560"},
      {"w":601,"y1":31.5,"y2":27.6,"ly":27.2,"lab":"601"},
      {"w":873,"y1":72.6,"y2":69.0,"ly":68.7,"lab":"873"},
      {"w":961,"y1":54.3,"y2":50.4,"ly":50.1,"lab":"961"},
      {"w":1027,"y1":11.7,"y2":7.9,"ly":7.6,"lab":"1027"},
      {"w":3217,"y1":72.6,"y2":68.8,"ly":68.5,"lab":"3217"}
    ],
    "gaps": [
      {"x":1245,"x2":2418,"y":-0.35,"y2":0.35},
      {"x":1245,"x2":2418,"y":99.65,"y2":100.35}
    ],
    "slashes": [
      {"x":1236,"x2":1476,"y":-1.69,"y2":1.69},
      {"x":1947,"x2":2706,"y":-1.69,"y2":1.69},
      {"x":1236,"x2":1476,"y":98.31,"y2":101.69},
      {"x":1947,"x2":2706,"y":98.31,"y2":101.69}
    ]
  },
  "layer": [
    {
      "data": {"name": "spec"},
      "mark": {"type": "line", "strokeWidth": 3.5, "interpolate": "monotone"},
      "encoding": {
        "x": {
          "field": "w", "type": "quantitative",
          "scale": {"domain": [448, 1250, 2700, 4000], "range": [0, 423.1, 438.5, 860], "nice": false, "zero": false},
          "axis": {
            "title": "Wavenumber (cm⁻¹)", "values": [500, 1000, 3000, 3500, 4000], "format": "d",
            "domain": false, "grid": false, "tickSize": 13, "tickWidth": 2.5, "tickColor": "black",
            "labelFontSize": 27, "labelFontWeight": "bold", "labelColor": "black", "labelPadding": 12,
            "labelFlush": false, "labelOverlap": false, "labelFont": "Liberation Sans",
            "titleFontSize": 36, "titleFontWeight": "bold", "titleColor": "black", "titleFont": "Liberation Sans",
            "titleX": 261.5, "titleY": 95, "titleAlign": "left", "titleBaseline": "alphabetic"
          }
        },
        "y": {
          "field": "t", "type": "quantitative",
          "scale": {"domain": [0, 100], "nice": false, "zero": false},
          "axis": {
            "title": "Transmitance (a.u.)", "labels": false, "ticks": false, "domain": false, "grid": false,
            "titleFontSize": 35, "titleFontWeight": "bold", "titleColor": "black", "titleFont": "Liberation Sans",
            "titleAngle": 270, "titleX": -37.5, "titleY": 382.5, "titleAlign": "center", "titleBaseline": "alphabetic"
          }
        },
        "color": {
          "field": "s", "type": "nominal",
          "scale": {"domain": ["Hydroxyapatite", "MgZnHAp_Ch"], "range": ["#cc66ff", "#7ee000"]},
          "legend": {
            "orient": "none", "legendX": 513.5, "legendY": 346, "title": null,
            "symbolType": "stroke", "symbolSize": 6724, "symbolStrokeWidth": 3.5,
            "labelFontSize": 34, "labelFont": "Liberation Sans", "labelColor": "black",
            "labelOffset": 10, "rowPadding": 0, "clipHeight": 48, "padding": 0, "labelLimit": 400
          }
        },
        "detail": {"field": "p"}
      }
    },
    {
      "data": {"name": "peaks"},
      "mark": {"type": "rule", "color": "#ff0000", "strokeWidth": 2},
      "encoding": {
        "x": {"field": "w", "type": "quantitative"},
        "y": {"field": "y1", "type": "quantitative"},
        "y2": {"field": "y2"}
      }
    },
    {
      "data": {"name": "peaks"},
      "mark": {"type": "text", "angle": 270, "align": "right", "baseline": "middle", "fontSize": 24, "fontWeight": "bold", "font": "Liberation Sans", "color": "black"},
      "encoding": {
        "x": {"field": "w", "type": "quantitative"},
        "y": {"field": "ly", "type": "quantitative"},
        "text": {"field": "lab"}
      }
    },
    {
      "data": {"name": "gaps"},
      "mark": {"type": "rect", "color": "white"},
      "encoding": {
        "x": {"field": "x", "type": "quantitative"},
        "x2": {"field": "x2"},
        "y": {"field": "y", "type": "quantitative"},
        "y2": {"field": "y2"}
      }
    },
    {
      "data": {"name": "slashes"},
      "mark": {"type": "rule", "color": "black", "strokeWidth": 2.5},
      "encoding": {
        "x": {"field": "x", "type": "quantitative"},
        "x2": {"field": "x2"},
        "y": {"field": "y", "type": "quantitative"},
        "y2": {"field": "y2"}
      }
    }
  ]
}
